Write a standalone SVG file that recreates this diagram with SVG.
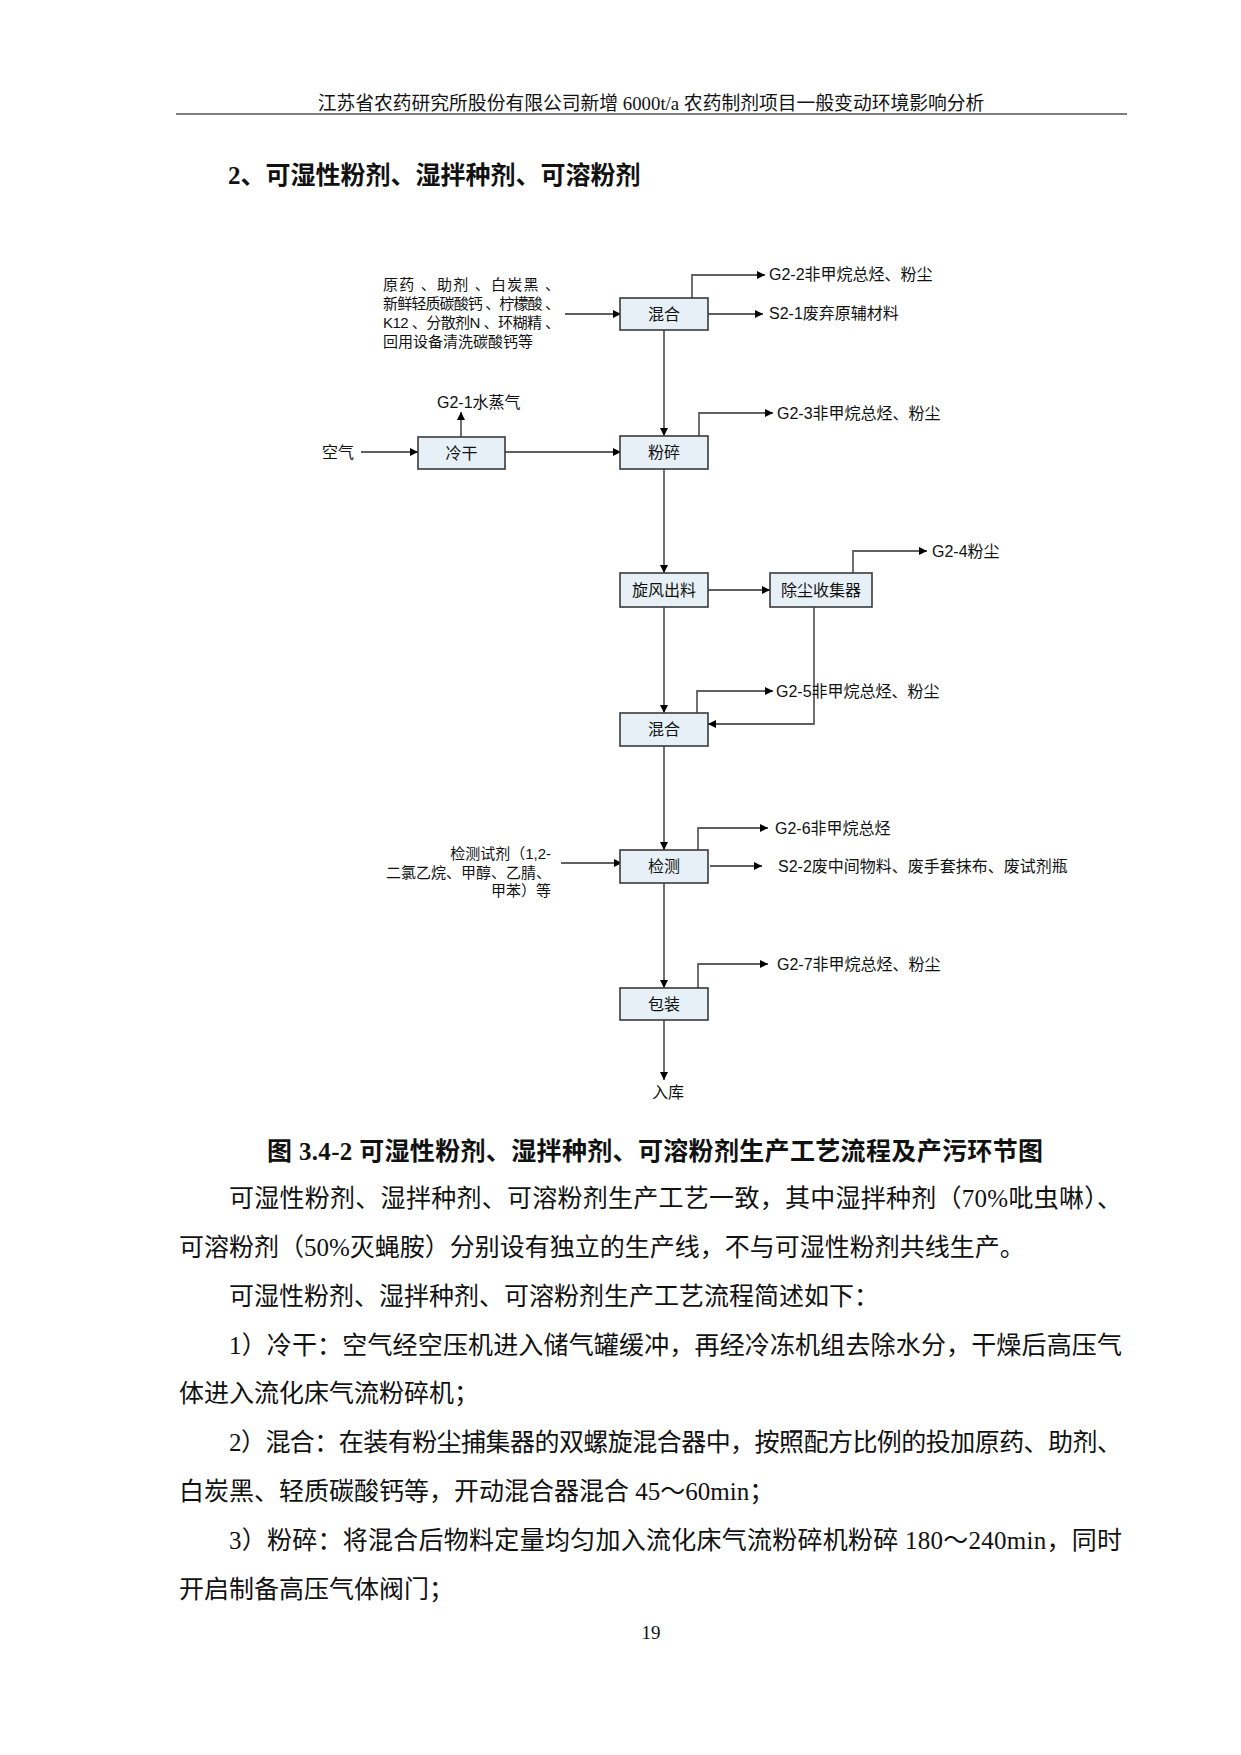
<svg xmlns="http://www.w3.org/2000/svg" width="1241" height="1755" viewBox="0 0 1241 1755">
<defs>
<marker id="ah" viewBox="0 0 10 10" refX="10" refY="5" markerWidth="9" markerHeight="8" markerUnits="userSpaceOnUse" orient="auto"><path d="M0,0 L10,5 L0,10 z" fill="#000"/></marker>
<style>
.page{font-family:"Liberation Serif","Noto Sans CJK SC",serif;fill:#111}
.hdr{font-size:18.8px}
.ttl{font-size:25px;font-weight:bold}
.body{font-size:25px}
.fc{font-family:"Liberation Sans","Noto Sans CJK SC",sans-serif;font-size:16px;fill:#111}
.in{font-size:15px}
.box{fill:#E6F0F6;stroke:#3a3a3a;stroke-width:1.6}
.con{fill:none;stroke:#606060;stroke-width:1.8;marker-end:url(#ah)}
</style>
</defs>
<rect width="1241" height="1755" fill="#fff"/>
<g id="header" class="page">
<text class="hdr" x="651" y="110" text-anchor="middle">江苏省农药研究所股份有限公司新增 6000t/a 农药制剂项目一般变动环境影响分析</text>
<line x1="176" y1="114" x2="1127" y2="114" stroke="#000" stroke-width="1.2"/>
<text class="ttl" x="228" y="184">2、可湿性粉剂、湿拌种剂、可溶粉剂</text>
</g>
<g id="connectors">
<path class="con" d="M565,314 H621"/>
<path class="con" d="M692,298 V275 H765"/>
<path class="con" d="M708,314 H763"/>
<path class="con" d="M664,330 V436"/>
<path class="con" d="M361,452 H418"/>
<path class="con" d="M461,437 V412"/>
<path class="con" d="M505,452 H621"/>
<path class="con" d="M699,436 V413 H773"/>
<path class="con" d="M664,469 V573"/>
<path class="con" d="M708,590 H770"/>
<path class="con" d="M853,573 V551 H927"/>
<path class="con" d="M664,607 V713"/>
<path class="con" d="M814,607 V724 H708"/>
<path class="con" d="M697,713 V691 H773"/>
<path class="con" d="M664,746 V850"/>
<path class="con" d="M561,863 H622"/>
<path class="con" d="M698,850 V828 H768"/>
<path class="con" d="M710,866 H762"/>
<path class="con" d="M664,883 V988"/>
<path class="con" d="M698,988 V964 H768"/>
<path class="con" d="M664,1020 V1080"/>
</g>
<g id="n-mix1" class="fc"><rect class="box" x="620" y="298" width="88" height="32"/><text x="664" y="320" text-anchor="middle">混合</text></g>
<g id="n-cold" class="fc"><rect class="box" x="418" y="437" width="87" height="32"/><text x="461.5" y="459" text-anchor="middle">冷干</text></g>
<g id="n-mill" class="fc"><rect class="box" x="620" y="436" width="88" height="33"/><text x="664" y="458" text-anchor="middle">粉碎</text></g>
<g id="n-cyclone" class="fc"><rect class="box" x="620" y="573" width="88" height="34"/><text x="664" y="596" text-anchor="middle">旋风出料</text></g>
<g id="n-dust" class="fc"><rect class="box" x="770" y="573" width="102" height="34"/><text x="821" y="596" text-anchor="middle">除尘收集器</text></g>
<g id="n-mix2" class="fc"><rect class="box" x="620" y="713" width="88" height="33"/><text x="664" y="735" text-anchor="middle">混合</text></g>
<g id="n-test" class="fc"><rect class="box" x="620" y="850" width="88" height="33"/><text x="664" y="872" text-anchor="middle">检测</text></g>
<g id="n-pack" class="fc"><rect class="box" x="620" y="988" width="88" height="32"/><text x="664" y="1010" text-anchor="middle">包装</text></g>
<g id="labels" class="fc">
<text class="in" x="383" y="290" textLength="177" lengthAdjust="spacing">原药 、助剂 、白炭黑 、</text>
<text class="in" x="383" y="309" textLength="177" lengthAdjust="spacing">新鲜轻质碳酸钙 、柠檬酸 、</text>
<text class="in" x="383" y="328" textLength="177" lengthAdjust="spacing">K12 、分散剂N 、环糊精 、</text>
<text class="in" x="383" y="347">回用设备清洗碳酸钙等</text>
<text x="769" y="280">G2-2非甲烷总烃、粉尘</text>
<text x="769" y="319">S2-1废弃原辅材料</text>
<text x="437" y="408">G2-1水蒸气</text>
<text x="322" y="458">空气</text>
<text x="777" y="419">G2-3非甲烷总烃、粉尘</text>
<text x="932" y="557">G2-4粉尘</text>
<text x="776" y="697">G2-5非甲烷总烃、粉尘</text>
<text class="in" x="551" y="859" text-anchor="end">检测试剂（1,2-</text>
<text class="in" x="551" y="878" text-anchor="end">二氯乙烷、甲醇、乙腈、</text>
<text class="in" x="551" y="896" text-anchor="end">甲苯）等</text>
<text x="775" y="834">G2-6非甲烷总烃</text>
<text x="778" y="872">S2-2废中间物料、废手套抹布、废试剂瓶</text>
<text x="777" y="970">G2-7非甲烷总烃、粉尘</text>
<text x="668" y="1098" text-anchor="middle">入库</text>
</g>
<g id="bodytext" class="page">
<text class="ttl" x="267" y="1160" textLength="776" lengthAdjust="spacing">图 3.4-2  可湿性粉剂、湿拌种剂、可溶粉剂生产工艺流程及产污环节图</text>
<text class="body" x="229" y="1207" textLength="893" lengthAdjust="spacing">可湿性粉剂、湿拌种剂、可溶粉剂生产工艺一致，其中湿拌种剂（70%吡虫啉）、</text>
<text class="body" x="179" y="1256">可溶粉剂（50%灭蝇胺）分别设有独立的生产线，不与可湿性粉剂共线生产。</text>
<text class="body" x="229" y="1305">可湿性粉剂、湿拌种剂、可溶粉剂生产工艺流程简述如下：</text>
<text class="body" x="229" y="1354" textLength="893" lengthAdjust="spacing">1）冷干：空气经空压机进入储气罐缓冲，再经冷冻机组去除水分，干燥后高压气</text>
<text class="body" x="179" y="1402">体进入流化床气流粉碎机；</text>
<text class="body" x="229" y="1451" textLength="893" lengthAdjust="spacing">2）混合：在装有粉尘捕集器的双螺旋混合器中，按照配方比例的投加原药、助剂、</text>
<text class="body" x="179" y="1500">白炭黑、轻质碳酸钙等，开动混合器混合 45～60min；</text>
<text class="body" x="229" y="1549" textLength="893" lengthAdjust="spacing">3）粉碎：将混合后物料定量均匀加入流化床气流粉碎机粉碎 180～240min，同时</text>
<text class="body" x="179" y="1598">开启制备高压气体阀门；</text>
<text x="651" y="1639" text-anchor="middle" style="font-size:19px">19</text>
</g>
</svg>
